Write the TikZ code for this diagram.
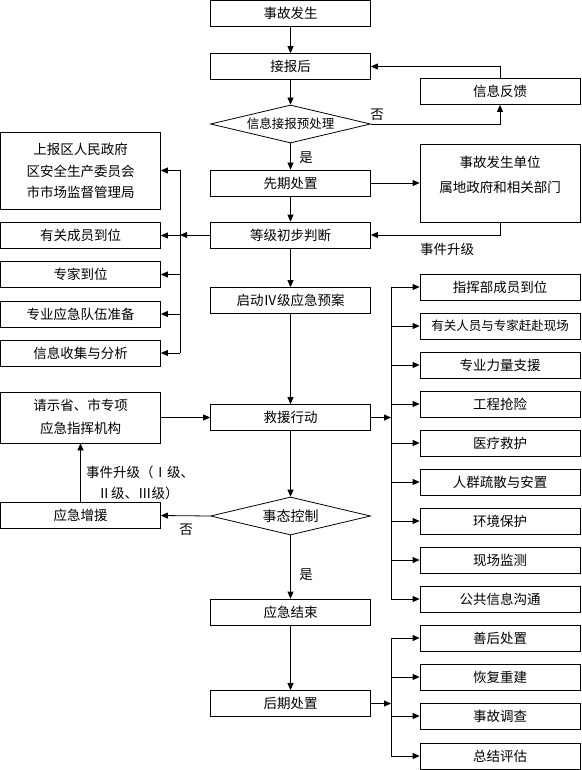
\documentclass[tikz,border=0pt]{standalone}
\usepackage{fontspec}
\setmainfont{Noto Sans CJK SC}
\usetikzlibrary{shapes.geometric,arrows.meta,calc}
\tikzset{
  box/.style={draw, line width=0.8pt, minimum width=160pt, minimum height=26pt, inner sep=0pt, font=\fontsize{13.5}{15}\selectfont, align=center},
  dia/.style={draw, line width=0.8pt, shape=diamond, aspect=4, minimum width=160pt, minimum height=38pt, inner sep=0pt, font=\fontsize{13.5}{15}\selectfont},
  arr/.style={line width=0.8pt, -{Triangle[length=7pt,width=6pt]}},
  ln/.style={line width=0.8pt},
  lbl/.style={font=\fontsize{13.5}{15}\selectfont, inner sep=0pt}
}
\begin{document}
\begin{tikzpicture}[x=1pt,y=-1pt]
\useasboundingbox (0,0) rectangle (581,770);
% main column
\node[box] (s1) at (290.5,13) {事故发生};
\node[box] (s2) at (290.5,66.5) {接报后};
\node[dia, font=\fontsize{12.5}{14}\selectfont] (d1) at (290.5,124) {信息接报预处理};
\node[box] (s3) at (290.5,183) {先期处置};
\node[box] (s4) at (290.5,235) {等级初步判断};
\node[box] (s5) at (290.5,300.5) {启动Ⅳ级应急预案};
\node[box] (s6) at (290.5,417.5) {救援行动};
\node[dia, font=\fontsize{14}{16}\selectfont] (d2) at (290.5,516) {事态控制};
\node[box] (s7) at (290.5,612) {应急结束};
\node[box] (s8) at (290.5,703.5) {后期处置};
% right upper
\node[box] (fb) at (500,91.5) {信息反馈};
\node[box, minimum height=78pt] (sg) at (500,183) {};
\node[lbl] at (500,162) {事故发生单位};
\node[lbl] at (500,187) {属地政府和相关部门};
% left upper
\node[box, minimum height=77pt] (l1) at (80.5,170.5) {};
\node[lbl] at (80.5,149) {上报区人民政府};
\node[lbl] at (80.5,171) {区安全生产委员会};
\node[lbl] at (80.5,192) {市市场监督管理局};
\node[box] (l2) at (80.5,235.5) {有关成员到位};
\node[box] (l3) at (80.5,274.5) {专家到位};
\node[box] (l4) at (80.5,314) {专业应急队伍准备};
\node[box] (l5) at (80.5,353) {信息收集与分析};
% left lower
\node[box, minimum height=51pt] (q1) at (80.5,417.5) {};
\node[lbl] at (80.5,405) {请示省、市专项};
\node[lbl] at (80.5,428) {应急指挥机构};
\node[box] (q2) at (80.5,515.5) {应急增援};
% right branches
\node[box] (r1) at (500,287) {指挥部成员到位};
\node[box, font=\fontsize{12.5}{14}\selectfont] (r2) at (500,326) {有关人员与专家赶赴现场};
\node[box] (r3) at (500,365) {专业力量支援};
\node[box] (r4) at (500,404) {工程抢险};
\node[box] (r5) at (500,443) {医疗救护};
\node[box] (r6) at (500,482) {人群疏散与安置};
\node[box] (r7) at (500,521) {环境保护};
\node[box] (r8) at (500,560) {现场监测};
\node[box] (r9) at (500,599) {公共信息沟通};
\node[box] (p1) at (500,638) {善后处置};
\node[box] (p2) at (500,677) {恢复重建};
\node[box] (p3) at (500,716) {事故调查};
\node[box] (p4) at (500,756) {总结评估};
% main arrows
\draw[arr] (s1) -- (s2);
\draw[arr] (s2) -- (d1);
\draw[arr] (d1) -- (s3);
\draw[arr] (s3) -- (s4);
\draw[arr] (s4) -- (s5);
\draw[arr] (s5) -- (s6);
\draw[arr] (s6) -- (d2);
\draw[arr] (d2) -- (s7);
\draw[arr] (s7) -- (s8);
% feedback loop
\draw[arr] (d1.east) -| (fb.south);
\draw[arr] (fb.north) |- (s2.east);
\node[lbl] at (377,115) {否};
\node[lbl] at (306,158) {是};
% to unit
\draw[arr] (s3.east) -- (sg.west |- s3.east);
\draw[arr] (sg.south) |- (s4.east);
\node[lbl] at (447,249) {事件升级};
% left bus
\coordinate (lb) at (180,235);
\draw[arr] (s4.west) -- (lb);
\draw[ln] (l1.east -| lb) -- (l5.east -| lb);
\foreach \n in {l1,l2,l3,l4,l5} \draw[arr] (\n.east -| lb) -- (\n.east);
% right bus
\coordinate (rb) at (391,417.5);
\draw[arr] (s6.east) -- (rb);
\draw[ln] (r1.west -| rb) -- (r9.west -| rb);
\foreach \n in {r1,r2,r3,r4,r5,r6,r7,r8,r9} \draw[arr] (\n.west -| rb) -- (\n.west);
\coordinate (rb2) at (391,703.5);
\draw[arr] (s8.east) -- (rb2);
\draw[ln] (p1.west -| rb2) -- (p4.west -| rb2);
\foreach \n in {p1,p2,p3,p4} \draw[arr] (\n.west -| rb2) -- (\n.west);
% left lower
\draw[arr] (q1.east) -- (s6.west);
\draw[arr] (d2.west) -- (q2.east);
\draw[arr] (q2.north) -- (q1.south);
\node[lbl] at (186,530) {否};
\node[lbl] at (306,575) {是};
\node[lbl] at (140,472) {事件升级（Ⅰ级、};
\node[lbl] at (138,493) {Ⅱ级、Ⅲ级）};
\end{tikzpicture}
\end{document}
